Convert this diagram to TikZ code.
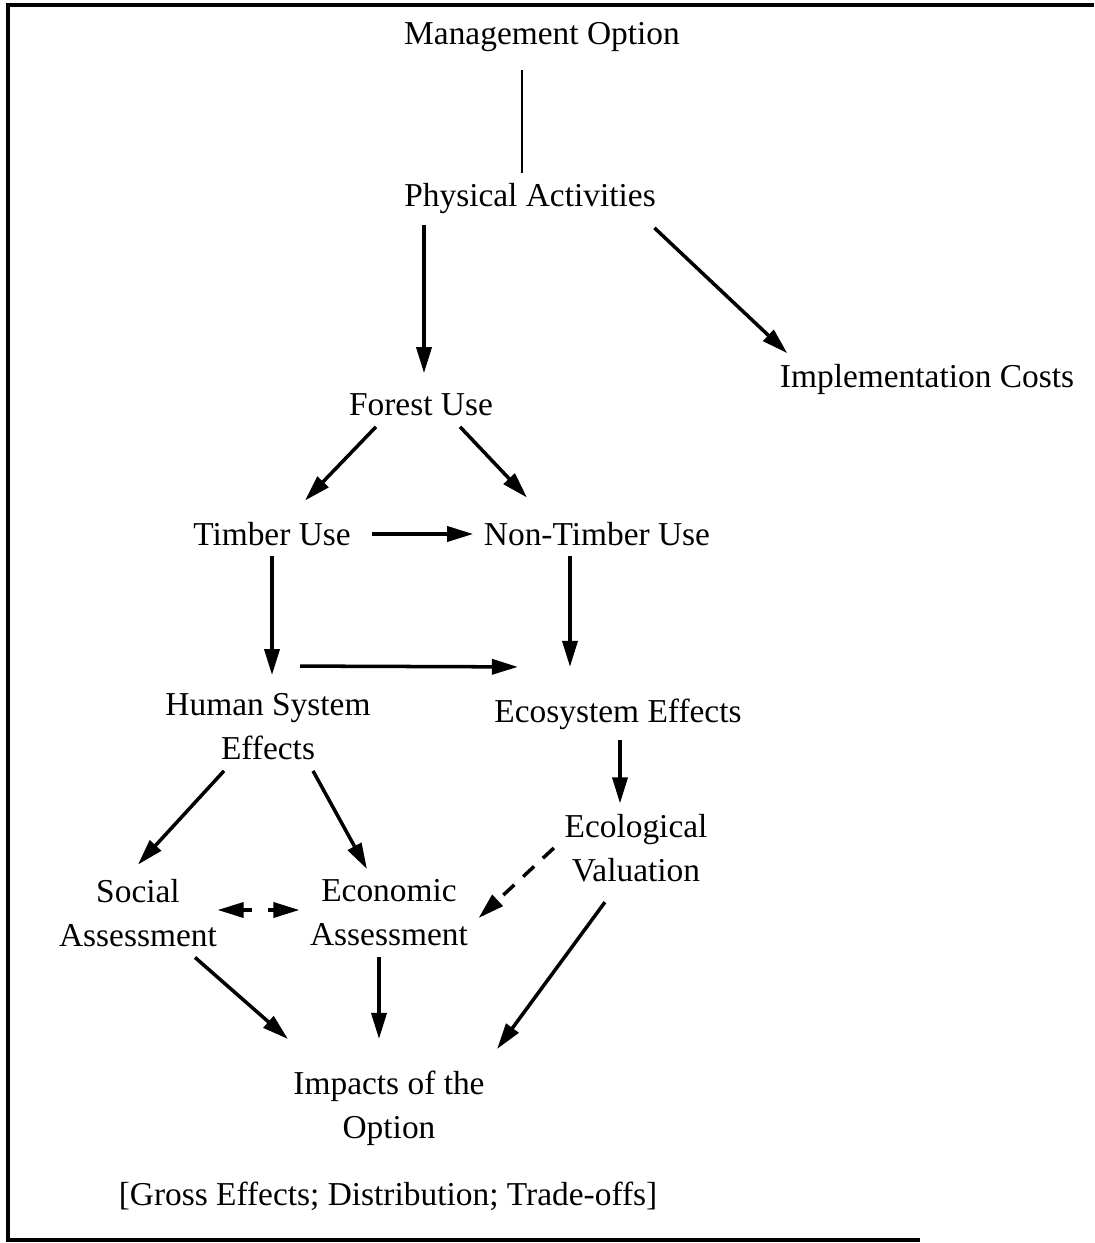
\documentclass[tikz,border=0pt]{standalone}
\usepackage{fontspec}
\setmainfont{Liberation Serif}
\usepackage{tikz}
\usetikzlibrary{arrows.meta,calc}

\begin{document}
\begin{tikzpicture}[x=0.01cm, y=-0.01cm,
    box/.style={inner sep=1mm, font=\fontsize{9.5}{12.5}\selectfont, align=center},
    arr/.style={-{Triangle[length=2.6mm, width=1.5mm]}, line width=1pt},
    darr/.style={arr, dash pattern=on 1.5mm off 1.2mm}]
        \useasboundingbox (0,0) rectangle (1094,1243);
        % Open frame
        \draw[line width=1.1pt] (1094,5) -- (8,5) -- (8,1240) -- (920,1240);
        % Nodes
        \node[box] (mo) at (542,37) {Management Option};
        \node[box] (pa) at (530,199) {Physical Activities};
        \node[box] (fu) at (421,405) {Forest Use};
        \node[box] (ic) at (927,379) {Implementation Costs};
        \node[box] (tu) at (272,534) {Timber Use};
        \node[box] (ntu) at (597,534) {Non-Timber Use};
        \node[box] (hse) at (268,727) {Human System\\Effects};
        \node[box] (ee) at (618,714) {Ecosystem Effects};
        \node[box] (ev) at (636,848) {Ecological\\Valuation};
        \node[box] (sa) at (138,913) {Social\\Assessment};
        \node[box] (ea) at (389,913) {Economic\\Assessment};
        \node[box] (io) at (389,1108) {Impacts of the\\Option};
        \node[box] (ge) at (388,1196) {[Gross Effects; Distribution; Trade-offs]};
        % Connectors
        \draw[line width=0.7pt, shorten <=0.8mm] ([xshift=-2mm]mo.south) -- ([xshift=-2mm]mo.south |- pa.north);
        \draw[arr, shorten >=1mm] ([xshift=0.3mm]fu.north |- pa.south) -- ([xshift=0.3mm]fu.north);
        \draw[arr] ([xshift=-1.2mm,yshift=-0.3mm]pa.south east) -- ([xshift=1.8mm]ic.north west);
        \draw[arr] ([xshift=-4.5mm]fu.south) -- ([xshift=3.3mm,yshift=1.1mm]tu.north);
        \draw[arr] ([xshift=3.9mm]fu.south) -- ([xshift=-7mm,yshift=1.4mm]ntu.north);
        \draw[arr, shorten <=1.1mm] (tu.east) -- (ntu.west);
        \draw[arr, shorten >=0.8mm] (tu.south) -- (tu.south |- hse.north);
        \draw[arr, shorten >=2.1mm] ([xshift=-2.7mm]ntu.south) -- ([xshift=-2.7mm]ntu.south |- ee.north);
        \draw[arr] ([xshift=3.2mm,yshift=1.7mm]hse.north) -- ([xshift=-10mm,yshift=2.1mm]ee.north);
        \draw[arr] ([xshift=0.2mm]ee.south) -- ([xshift=0.2mm]ee.south |- ev.north);
        \draw[arr] ([xshift=-4.4mm]hse.south) -- ([yshift=0.4mm]sa.north);
        \draw[arr] ([xshift=4.5mm]hse.south) -- ([xshift=-2.2mm]ea.north);
        \draw[arr, {Triangle[length=2.6mm, width=1.5mm]}-{Triangle[length=2.6mm, width=1.5mm]}, dash pattern=on 0.9mm off 1.6mm, shorten <=-1mm] ([yshift=0.3mm]sa.east) -- ([yshift=0.3mm]ea.west);
        \draw[darr] (ev.west) -- ([yshift=-0.5mm]ea.east);
        \draw[arr] ([xshift=5.7mm]sa.south) -- ([xshift=-10.1mm,yshift=2.1mm]io.north);
        \draw[arr, shorten >=2.1mm] ([xshift=-1mm]ea.south) -- ([xshift=-1mm]ea.south |- io.north);
        \draw[arr, shorten <=1.2mm] ([xshift=-2.4mm]ev.south) -- ([xshift=10.8mm,yshift=1.1mm]io.north);
      \end{tikzpicture}
\end{document}
